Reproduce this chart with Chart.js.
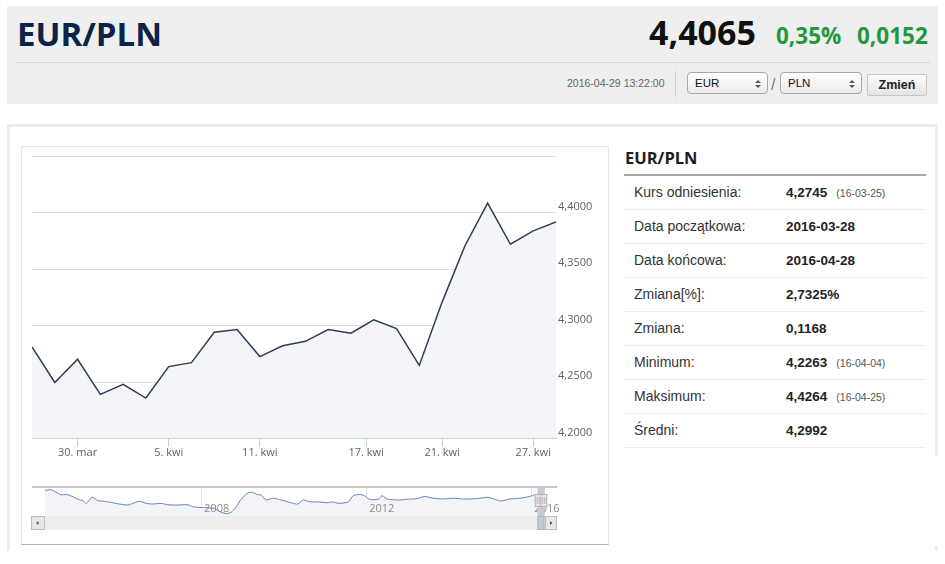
<!DOCTYPE html>
<html>
<head>
<meta charset="utf-8">
<script src="https://cdn.jsdelivr.net/npm/chart.js@4.4.1/dist/chart.umd.min.js"></script>
<style>
html,body{margin:0;padding:0;background:#fff;}
body{width:945px;height:564px;overflow:hidden;position:relative;font-family:"Liberation Sans",Arial,sans-serif;}
.a{position:absolute;white-space:nowrap;}
.os{font-family:"Open Sans",sans-serif;font-weight:700;}
.sel{position:absolute;top:72px;height:20px;border:1px solid #a8a8a8;border-radius:4px;background:linear-gradient(#ffffff,#ececec);box-sizing:content-box;}
.sel span.t{position:absolute;left:7px;top:0;line-height:20px;font-size:11.5px;color:#111;}
.up,.dn{position:absolute;width:0;height:0;border-left:3px solid transparent;border-right:3px solid transparent;}
.up{border-bottom:3px solid #555;top:7px;}
.dn{border-top:3px solid #555;top:12px;}
.row{position:absolute;left:624px;width:302px;height:33px;border-bottom:1px solid #ececec;line-height:33px;}
.row .l{position:absolute;left:10px;top:0;font-size:14px;color:#333;}
.row .v{position:absolute;left:162px;top:0;font-size:13.5px;font-weight:bold;color:#222;}
.row .v small{font-size:10.5px;font-weight:normal;color:#555;margin-left:9px;}
</style>
</head>
<body>
<!-- header -->
<div class="a" style="left:7px;top:6px;width:931px;height:98px;background:#efefef;"></div>
<div class="a os" style="left:17px;top:17px;font-size:33px;line-height:33px;color:#0b2346;">EUR/PLN</div>
<div class="a os" style="left:649px;top:15px;font-size:34px;line-height:34px;color:#111;">4,4065</div>
<div class="a os" style="left:776px;top:25px;font-size:22.5px;line-height:22.5px;color:#23983a;">0,35%</div>
<div class="a os" style="left:857px;top:25px;font-size:22.5px;line-height:22.5px;color:#23983a;">0,0152</div>
<div class="a" style="left:16px;top:62px;width:914px;height:1px;background:#d6d6d6;"></div>
<div class="a" style="left:567px;top:78px;font-size:10.5px;line-height:10.5px;color:#666;">2016-04-29 13:22:00</div>
<div class="a" style="left:675px;top:71px;width:1px;height:26px;background:#cfcfcf;"></div>
<div class="sel" style="left:687px;width:79px;"><span class="t">EUR</span><i class="up" style="left:67px"></i><i class="dn" style="left:67px"></i></div>
<div class="a" style="left:771px;top:76px;font-size:16px;line-height:18px;color:#777;">/</div>
<div class="sel" style="left:780px;width:80px;"><span class="t">PLN</span><i class="up" style="left:68px"></i><i class="dn" style="left:68px"></i></div>
<div class="a" style="left:867px;top:74px;width:58px;height:20px;border:1px solid #c6c6c6;border-radius:2px;background:linear-gradient(#fdfdfd,#e4e4e4);text-align:center;line-height:20px;font-size:12.5px;font-weight:bold;color:#222;">Zmień</div>

<!-- main box -->
<div class="a" style="left:7px;top:124px;width:925px;height:424px;border:3px solid #ececec;border-bottom:none;"></div>
<div class="a" style="left:934px;top:456px;width:6px;height:90px;background:#fff;"></div>
<div class="a" style="left:21px;top:146px;width:586px;height:397px;border:1px solid #e8e8e8;border-bottom:1px solid #b4b4b4;"></div>

<canvas id="main" class="a" style="left:22px;top:146px;" width="586" height="320"></canvas>
<canvas id="nav" class="a" style="left:22px;top:480px;" width="586" height="60"></canvas>

<!-- table -->
<div class="a os" style="left:625px;top:150px;font-size:16.5px;line-height:16.5px;color:#1c1c1c;">EUR/PLN</div>
<div class="a" style="left:624px;top:174px;width:302px;height:2px;background:#a6a6a6;"></div>
<div id="tbl"></div>

<script>
// ---- main chart data ----
const dates = ['2016-03-28','2016-03-29','2016-03-30','2016-03-31','2016-04-01','2016-04-04','2016-04-05','2016-04-06','2016-04-07','2016-04-08','2016-04-11','2016-04-12','2016-04-13','2016-04-14','2016-04-15','2016-04-18','2016-04-19','2016-04-20','2016-04-21','2016-04-22','2016-04-25','2016-04-26','2016-04-27','2016-04-28'];
const rates = [4.2811,4.2496,4.2701,4.2390,4.2479,4.2358,4.2636,4.2671,4.2940,4.2964,4.2725,4.2820,4.2860,4.2964,4.2932,4.3051,4.2973,4.2647,4.3207,4.3704,4.4083,4.3719,4.3837,4.3917];
const xTickPos = [2, 6, 10, 14.667, 18, 22];
const xTickLabels = ['30. mar','5. kwi','11. kwi','17. kwi','21. kwi','27. kwi'];
const yMin = 4.2, yMax = 4.45, yStep = 0.05;

// ---- navigator data ----
const navYears = [2004.22,2004.37,2004.61,2004.73,2004.89,2005.01,2005.14,2005.22,2005.36,2005.50,2005.66,2005.86,2006.02,2006.23,2006.35,2006.51,2006.67,2006.83,2007.03,2007.19,2007.44,2007.68,2007.80,2008.00,2008.16,2008.32,2008.48,2008.61,2008.73,2008.85,2008.97,2009.13,2009.25,2009.37,2009.45,2009.57,2009.74,2009.94,2010.18,2010.34,2010.47,2010.63,2010.87,2011.04,2011.20,2011.32,2011.56,2011.68,2011.84,2011.96,2012.08,2012.29,2012.38,2012.53,2012.81,2012.97,2013.22,2013.42,2013.62,2013.86,2014.10,2014.34,2014.67,2014.95,2015.07,2015.27,2015.47,2015.72,2015.96,2016.08,2016.20,2016.33];
const navRates = [4.85,4.90,4.55,4.57,4.43,4.24,4.14,3.96,4.38,4.14,4.10,4.00,3.91,3.84,3.96,4.10,3.96,3.91,3.96,3.86,3.84,3.86,3.72,3.67,3.65,3.60,3.36,3.25,3.34,3.72,4.24,4.67,4.71,4.55,4.55,4.19,4.31,4.19,4.00,3.91,4.19,4.07,4.05,4.00,4.05,3.96,4.05,4.48,4.57,4.48,4.24,4.24,4.48,4.24,4.19,4.24,4.28,4.43,4.31,4.26,4.31,4.26,4.28,4.38,4.28,4.12,4.26,4.31,4.43,4.55,4.40,4.45];
const navTickYears = [2008, 2012, 2016];
const navTickLabels = ['2008','2012','2016'];
const selFrom = 2016.238, selTo = 2016.324;

// ---- table data ----
const tblLabels = ['Kurs odniesienia:','Data początkowa:','Data końcowa:','Zmiana[%]:','Zmiana:','Minimum:','Maksimum:','Średni:'];
const tblValues = ['4,2745','2016-03-28','2016-04-28','2,7325%','0,1168','4,2263','4,4264','4,2992'];
const tblNotes = ['(16-03-25)','','','','','(16-04-04)','(16-04-25)',''];

const tbl = document.getElementById('tbl');
tblLabels.forEach((l, i) => {
  const r = document.createElement('div');
  r.className = 'row';
  r.style.top = (176 + i * 34) + 'px';
  r.innerHTML = '<span class="l">' + l + '</span><span class="v">' + tblValues[i] +
    (tblNotes[i] ? '<small>' + tblNotes[i] + '</small>' : '') + '</span>';
  tbl.appendChild(r);
});

const FONT = '"Open Sans", sans-serif';

function draw() {
  new Chart(document.getElementById('main'), {
    type: 'line',
    data: {
      labels: dates,
      datasets: [{
        data: rates.map((v, i) => ({ x: i, y: v })),
        borderColor: '#2f3c54',
        borderWidth: 1.5,
        backgroundColor: '#f4f5f8',
        fill: 'start',
        pointRadius: 0,
        tension: 0
      }]
    },
    options: {
      responsive: false,
      animation: false,
      layout: { padding: { left: 10, top: 10, right: 0, bottom: 0 } },
      plugins: { legend: { display: false }, tooltip: { enabled: false } },
      scales: {
        x: {
          type: 'linear', position: 'bottom', min: 0, max: dates.length - 1,
          afterBuildTicks: s => { s.ticks = xTickPos.map(v => ({ value: v })); },
          afterFit: s => { s.height = 27.5; },
          ticks: {
            autoSkip: false, maxRotation: 0, padding: 0,
            callback: (v, i) => xTickLabels[i],
            font: { family: FONT, size: 11 }, color: '#606060'
          },
          grid: { display: true, drawOnChartArea: false, drawTicks: true, tickLength: 8, color: '#c0d0e0' },
          border: { display: true, color: '#c0d0e0', width: 1 }
        },
        y: {
          position: 'right', min: yMin, max: yMax,
          afterFit: s => { s.width = 52; },
          ticks: {
            stepSize: yStep, padding: 2, labelOffset: -6,
            callback: v => (v > yMax - 0.001 ? '' : v.toFixed(4).replace('.', ',')),
            font: { family: FONT, size: 11 }, color: '#606060'
          },
          grid: { color: '#dedede', drawTicks: false },
          border: { display: false }
        }
      }
    }
  });

  const navDecor = {
    id: 'navDecor',
    afterDraw(chart) {
      const ctx = chart.ctx, a = chart.chartArea, x = chart.scales.x;
      ctx.save();
      ctx.strokeStyle = '#c6c6c6'; ctx.lineWidth = 2;
      ctx.beginPath(); ctx.moveTo(10, a.top - 1); ctx.lineTo(535, a.top - 1); ctx.stroke();
      ctx.font = '11px ' + FONT; ctx.fillStyle = '#8a8a8a'; ctx.textBaseline = 'middle'; ctx.textAlign = 'left';
      navTickYears.forEach((yr, i) => ctx.fillText(navTickLabels[i], x.getPixelForValue(yr) + 3, a.top + 21));
      const xL = x.getPixelForValue(selFrom), xR = x.getPixelForValue(selTo);
      ctx.fillStyle = 'rgba(69,114,167,0.28)';
      ctx.fillRect(xL, a.top, xR - xL, a.bottom - a.top);
      const sy = a.bottom, sh = 14;
      ctx.fillStyle = '#eeeeee'; ctx.fillRect(a.left, sy, a.right - a.left, sh);
      ctx.fillStyle = '#e6e6e6'; ctx.strokeStyle = '#bdbdbd'; ctx.lineWidth = 1;
      ctx.fillRect(a.left - 14, sy, 14, sh); ctx.strokeRect(a.left - 13.5, sy + 0.5, 13, sh - 1);
      ctx.fillRect(a.right, sy, 12, sh); ctx.strokeRect(a.right + 0.5, sy + 0.5, 11, sh - 1);
      ctx.fillStyle = '#555';
      ctx.beginPath(); ctx.moveTo(a.left - 9, sy + 7); ctx.lineTo(a.left - 6.5, sy + 5); ctx.lineTo(a.left - 6.5, sy + 9); ctx.fill();
      ctx.beginPath(); ctx.moveTo(a.right + 7.5, sy + 7); ctx.lineTo(a.right + 5, sy + 5); ctx.lineTo(a.right + 5, sy + 9); ctx.fill();
      const tc = (xL + xR) / 2 - 2, tw = 7;
      ctx.fillStyle = '#c3cbd6'; ctx.strokeStyle = '#a9b3c2';
      ctx.fillRect(tc - tw / 2, a.top, tw, sy + sh - a.top);
      ctx.strokeRect(tc - tw / 2 + 0.5, sy + 0.5, tw - 1, sh - 1);
      const hy = a.top + 6;
      [xL - 3, xR - 1].forEach(hx => {
        ctx.fillStyle = '#ebe8e8'; ctx.strokeStyle = '#b2b1b6';
        ctx.fillRect(hx - 3.5, hy, 7, 13); ctx.strokeRect(hx - 3, hy + 0.5, 6, 12);
        ctx.beginPath(); ctx.moveTo(hx - 1, hy + 3); ctx.lineTo(hx - 1, hy + 10);
        ctx.moveTo(hx + 1, hy + 3); ctx.lineTo(hx + 1, hy + 10); ctx.stroke();
      });
      ctx.restore();
    }
  };

  new Chart(document.getElementById('nav'), {
    type: 'line',
    data: {
      datasets: [{
        data: navYears.map((yr, i) => ({ x: yr, y: navRates[i] })),
        borderColor: '#6185bf',
        borderWidth: 1,
        backgroundColor: '#f2f4f8',
        fill: 'start',
        pointRadius: 0,
        tension: 0.25
      }]
    },
    options: {
      responsive: false,
      animation: false,
      layout: { padding: { left: 23, top: 8, right: 63, bottom: 24 } },
      plugins: { legend: { display: false }, tooltip: { enabled: false } },
      scales: {
        x: {
          type: 'linear', min: navYears[0], max: navYears[navYears.length - 1],
          afterBuildTicks: s => { s.ticks = navTickYears.map(v => ({ value: v })); },
          afterFit: s => { s.height = 0; },
          ticks: { display: false },
          grid: { color: '#e4e4e4', drawTicks: false },
          border: { display: false }
        },
        y: { display: false, min: 3.08, max: 5.02 }
      }
    },
    plugins: [navDecor]
  });
}

const fl = document.fonts ? Promise.all([
  document.fonts.load('11px "Open Sans"'),
  document.fonts.load('bold 16px "Open Sans"')
]).catch(() => {}) : Promise.resolve();
fl.then(draw, draw);
</script>
</body>
</html>
